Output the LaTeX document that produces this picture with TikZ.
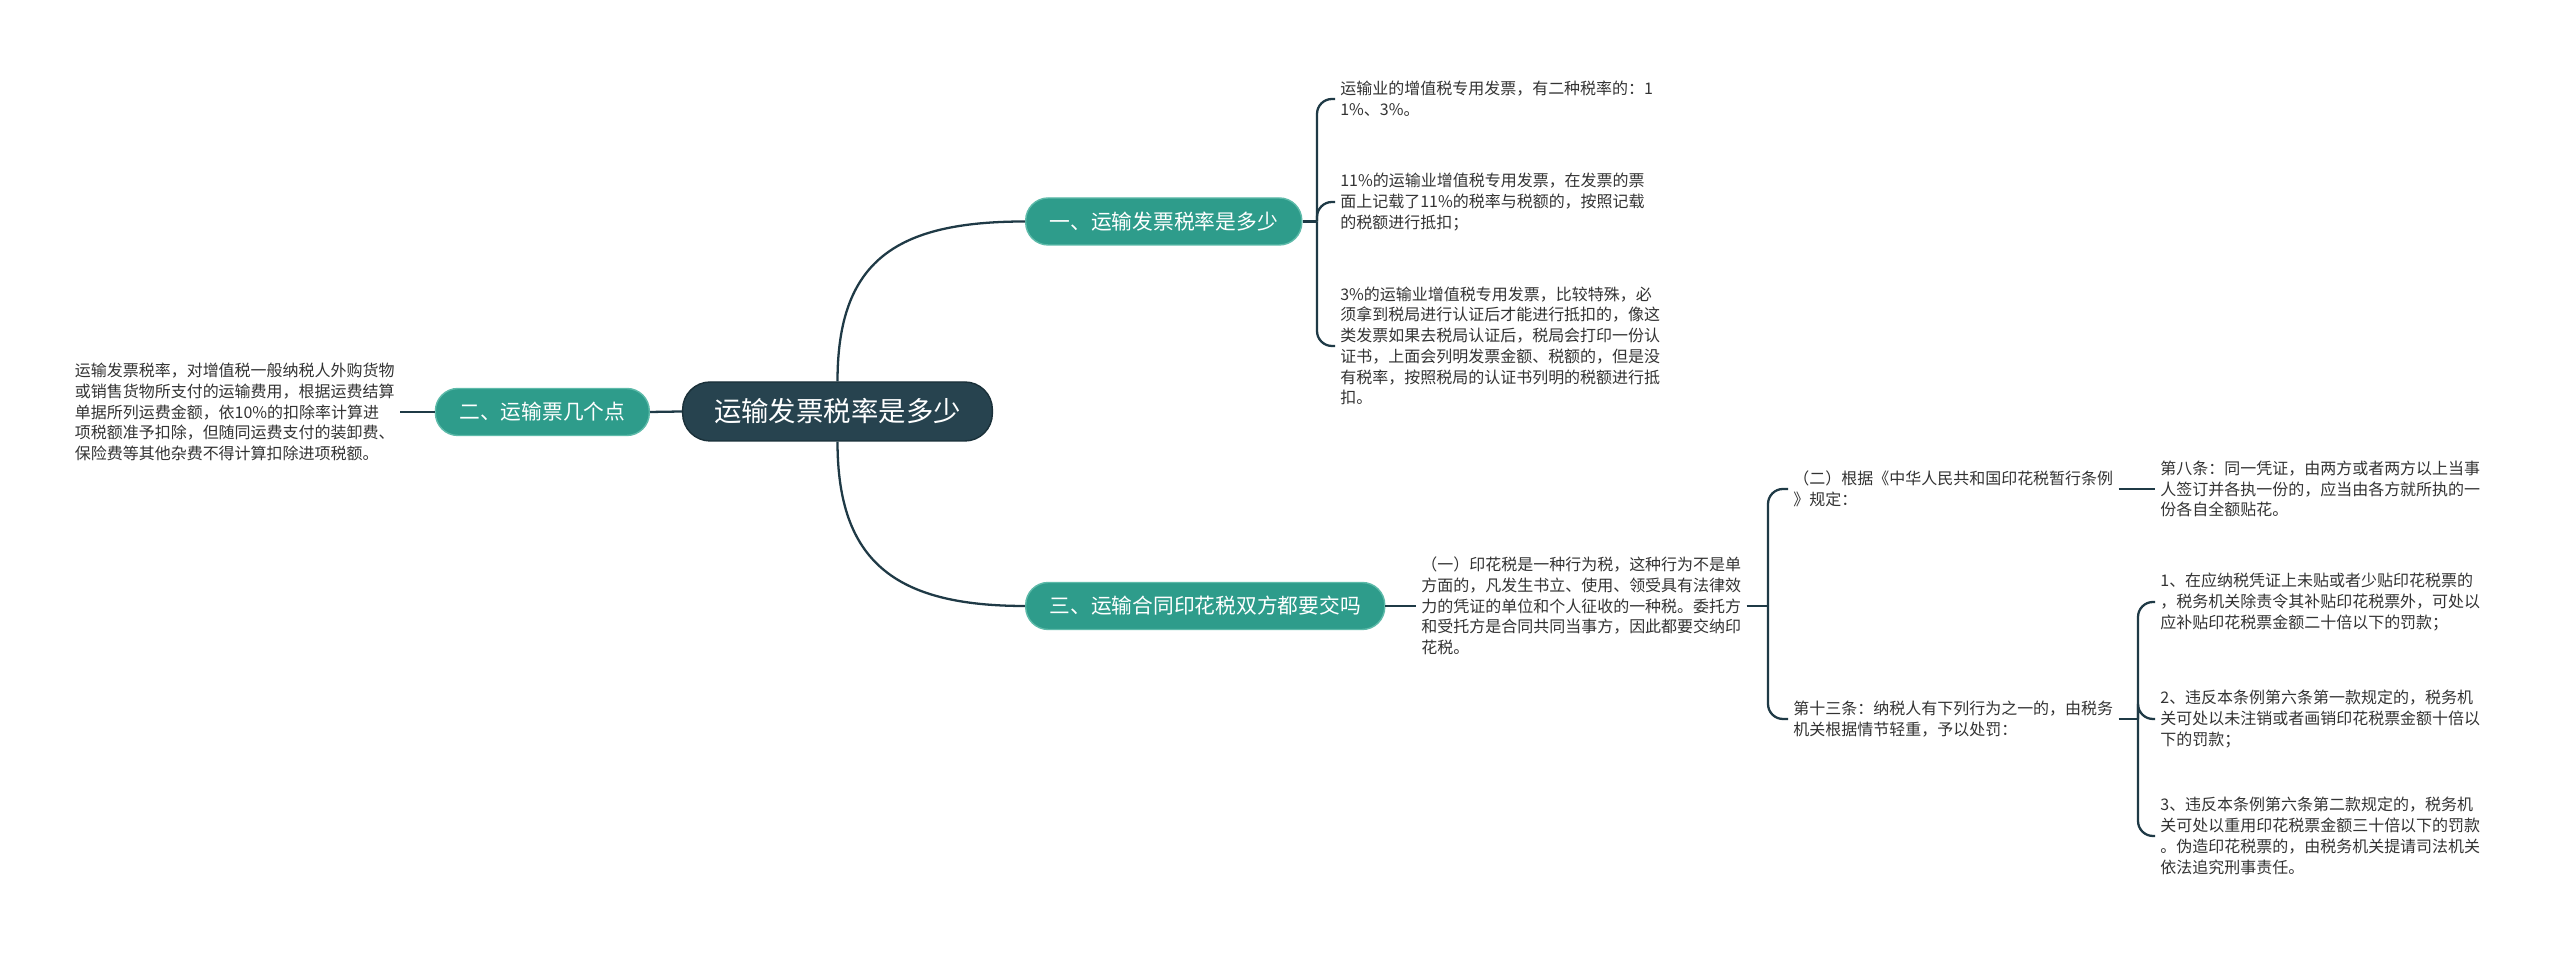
\documentclass[tikz,border=0pt]{standalone}
\usepackage{fontspec}
\setmainfont{Noto Sans CJK SC}
\usepackage{tikz}
\usetikzlibrary{positioning,calc}
\definecolor{mmnavy}{HTML}{27434F}
\definecolor{mmnavyedge}{HTML}{1A3039}
\definecolor{mmteal}{HTML}{2E9C8B}
\definecolor{mmtealedge}{HTML}{5DBAA9}
\definecolor{mmline}{HTML}{1F3A46}
\definecolor{mmtext}{HTML}{333333}
\tikzset{
  rootBox/.style={draw=mmnavyedge, line width=0.8pt, fill=mmnavy, text=white, rounded corners=0.55cm, inner xsep=0.63cm, minimum height=1.18cm, font=\fontsize{15.6pt}{18pt}\selectfont},
  topicBox/.style={draw=mmtealedge, line width=0.8pt, fill=mmteal, text=white, rounded corners=0.45cm, inner xsep=0.48cm, minimum height=0.94cm, font=\fontsize{11.8pt}{14pt}\selectfont},
  leafText/.style={text=mmtext, align=left, inner xsep=0.1cm, inner ysep=0.05cm, font=\fontsize{9.1pt}{11.8pt}\selectfont},
  linkLine/.style={draw=mmline, line width=1.3pt},
  bracketLine/.style={linkLine, rounded corners=0.3cm}
}

\begin{document}
\begin{tikzpicture}[x=1cm,y=1cm]
  \fill[white] (0,0) rectangle (51.2,19.12);
  \useasboundingbox (0,0) rectangle (51.2,19.12);
  % main topics
  \node[rootBox] (root) at (16.75,10.89) {运输发票税率是多少};
  \node[topicBox, anchor=west] (b1) at (20.5,14.69) {一、运输发票税率是多少};
  \node[topicBox, anchor=east] (b2) at (13.0,10.88) {二、运输票几个点};
  \node[topicBox, anchor=west] (b3) at (20.5,7.0) {三、运输合同印花税双方都要交吗};
  % leaves of the first topic
  \node[leafText, anchor=west] (l1a) at (26.7,17.14) {运输业的增值税专用发票，有二种税率的：1\\1\%、3\%。};
  \node[leafText, anchor=west] (l1b) at (26.7,15.08) {11\%的运输业增值税专用发票，在发票的票\\面上记载了11\%的税率与税额的，按照记载\\的税额进行抵扣；};
  \node[leafText, anchor=west] (l1c) at (26.7,12.2) {3\%的运输业增值税专用发票，比较特殊，必\\须拿到税局进行认证后才能进行抵扣的，像这\\类发票如果去税局认证后，税局会打印一份认\\证书，上面会列明发票金额、税额的，但是没\\有税率，按照税局的认证书列明的税额进行抵\\扣。};
  % leaf of the second topic
  \node[leafText, anchor=east] (l2) at (8.0,10.88) {运输发票税率，对增值税一般纳税人外购货物\\或销售货物所支付的运输费用，根据运费结算\\单据所列运费金额，依10\%的扣除率计算进\\项税额准予扣除，但随同运费支付的装卸费、\\保险费等其他杂费不得计算扣除进项税额。};
  % leaves of the third topic
  \node[leafText, anchor=west] (l3a) at (28.32,7.0) {（一）印花税是一种行为税，这种行为不是单\\方面的，凡发生书立、使用、领受具有法律效\\力的凭证的单位和个人征收的一种税。委托方\\和受托方是合同共同当事方，因此都要交纳印\\花税。};
  \node[leafText, anchor=west] (l3b) at (35.76,9.34) {（二）根据《中华人民共和国印花税暂行条例\\》规定：};
  \node[leafText, anchor=west] (l3c) at (35.76,4.74) {第十三条：纳税人有下列行为之一的，由税务\\机关根据情节轻重，予以处罚：};
  \node[leafText, anchor=west] (l4a) at (43.1,9.34) {第八条：同一凭证，由两方或者两方以上当事\\人签订并各执一份的，应当由各方就所执的一\\份各自全额贴花。};
  \node[leafText, anchor=west] (l4b) at (43.1,7.08) {1、在应纳税凭证上未贴或者少贴印花税票的\\，税务机关除责令其补贴印花税票外，可处以\\应补贴印花税票金额二十倍以下的罚款；};
  \node[leafText, anchor=west] (l4c) at (43.1,4.74) {2、违反本条例第六条第一款规定的，税务机\\关可处以未注销或者画销印花税票金额十倍以\\下的罚款；};
  \node[leafText, anchor=west] (l4d) at (43.1,2.4) {3、违反本条例第六条第二款规定的，税务机\\关可处以重用印花税票金额三十倍以下的罚款\\。伪造印花税票的，由税务机关提请司法机关\\依法追究刑事责任。};
  % bracket joints
  \coordinate (t1) at (26.34,14.69);
  \coordinate (t3) at (35.36,7.0);
  \coordinate (t4) at (42.76,4.74);
  % connectors
  \draw[linkLine] (root.north) .. controls +(0,2.4) and +(-2.6,0) .. (b1.west);
  \draw[linkLine] (root.south) .. controls +(0,-2.4) and +(-2.6,0) .. (b3.west);
  \draw[linkLine] (root.west) -- (b2.east);
  \draw[linkLine] (b2.west) -- (l2.east);
  \draw[linkLine] (b1.east) -- (t1);
  \draw[bracketLine] (t1) |- (l1a.west);
  \draw[bracketLine] (t1) |- (l1b.west);
  \draw[bracketLine] (t1) |- (l1c.west);
  \draw[linkLine] (b3.east) -- (l3a.west);
  \draw[linkLine] (l3a.east) -- (t3);
  \draw[bracketLine] (t3) |- (l3b.west);
  \draw[bracketLine] (t3) |- (l3c.west);
  \draw[linkLine] (l3b.east) -- (l4a.west);
  \draw[linkLine] (l3c.east) -- (t4);
  \draw[bracketLine] (t4) |- (l4b.west);
  \draw[bracketLine] (t4) |- (l4c.west);
  \draw[bracketLine] (t4) |- (l4d.west);
\end{tikzpicture}
\end{document}
